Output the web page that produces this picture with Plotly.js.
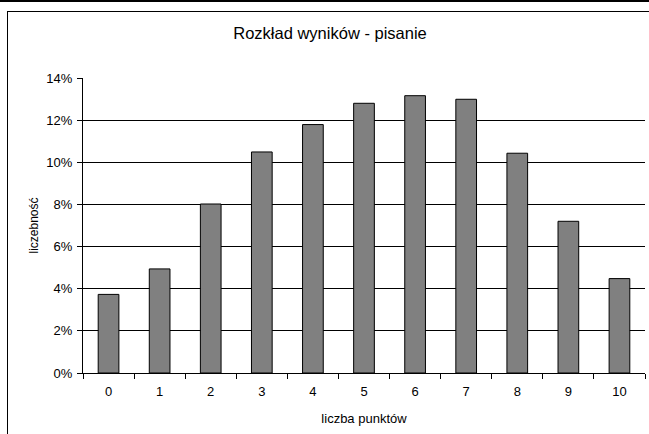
<!DOCTYPE html>
<html>
<head>
<meta charset="utf-8">
<script src="https://cdn.plot.ly/plotly-3.0.1.min.js"></script>
<style>
  html, body { margin: 0; padding: 0; background: #fff; overflow: hidden; }
  #wrap { position: relative; width: 649px; height: 434px; overflow: hidden; background: #fff; }
  .rule { position: absolute; background: #000; }
  #chart { position: absolute; left: 0; top: 0; width: 649px; height: 434px; }
</style>
</head>
<body>
<div id="wrap">
  <div class="rule" style="left:0;top:0;width:649px;height:2px;"></div>
  <div class="rule" style="left:7px;top:11px;width:642px;height:1px;"></div>
  <div class="rule" style="left:7px;top:11px;width:1px;height:423px;"></div>
  <div id="chart"></div>
</div>
<script>
const categories = ['0', '1', '2', '3', '4', '5', '6', '7', '8', '9', '10'];
const shares = [0.0373, 0.0494, 0.0802, 0.1049, 0.1179, 0.1280, 0.1316, 0.1299, 0.1043, 0.0720, 0.0448];
const yTickVals = [0, 0.02, 0.04, 0.06, 0.08, 0.10, 0.12, 0.14];
const yTickText = ['0%', '2%', '4%', '6%', '8%', '10%', '12%', '14%'];
const titleText = 'Rozkład wyników - pisanie';
const xTitle = 'liczba punktów';
const yTitle = 'liczebność';

const font = 'Liberation Sans, Arial, sans-serif';

const trace = {
  type: 'bar',
  x: categories,
  y: shares,
  marker: { color: '#808080', line: { color: '#000', width: 1 } },
  hoverinfo: 'x+y'
};

const layout = {
  width: 649,
  height: 434,
  margin: { l: 83, r: 4, t: 78, b: 61 },
  paper_bgcolor: 'rgba(0,0,0,0)',
  plot_bgcolor: 'rgba(0,0,0,0)',
  font: { family: font, color: '#000', size: 13 },
  title: {
    text: titleText,
    font: { family: font, size: 16.5, color: '#000' },
    x: 330 / 649, xref: 'container', xanchor: 'center',
    y: 1 - 33 / 434, yref: 'container', yanchor: 'middle'
  },
  bargap: 0.595,
  showlegend: false,
  xaxis: {
    type: 'category',
    showline: true, linecolor: '#000', linewidth: 1,
    ticks: 'outside', tickson: 'boundaries', ticklen: 5, tickcolor: '#000',
    ticklabelstandoff: 6,
    showgrid: false,
    tickfont: { family: font, size: 13, color: '#000' },
    title: { text: xTitle, font: { family: font, size: 13, color: '#000' }, standoff: 16 },
    fixedrange: true
  },
  yaxis: {
    range: [0, 0.14],
    tickvals: yTickVals,
    ticktext: yTickText,
    showline: true, linecolor: '#000', linewidth: 1,
    ticks: 'outside', ticklen: 5, tickcolor: '#000',
    ticklabelstandoff: 2,
    showgrid: true, gridcolor: '#000', gridwidth: 1,
    zeroline: false,
    tickfont: { family: font, size: 13, color: '#000' },
    title: { text: yTitle, font: { family: font, size: 12, color: '#000' }, standoff: 5 },
    fixedrange: true
  }
};

Plotly.newPlot('chart', [trace], layout, { displayModeBar: false, staticPlot: true });
</script>
</body>
</html>
